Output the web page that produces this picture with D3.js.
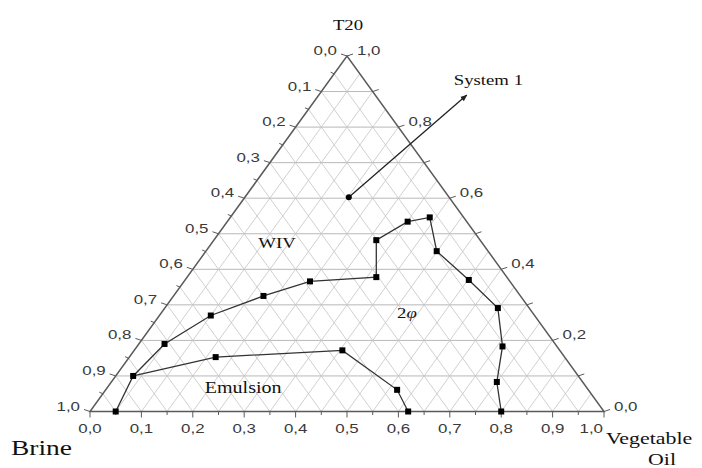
<!DOCTYPE html>
<html>
<head>
<meta charset="utf-8">
<script src="https://cdn.jsdelivr.net/npm/d3@7"></script>
<style>
  body { margin: 0; background: #fff; }
  svg { display: block; }
  .grid { stroke: #c4c4c4; stroke-width: 0.8; fill: none; }
  .grid.h { stroke: #b8b8b8; stroke-width: 1; }
  .frame { stroke: #5a5a5a; stroke-width: 1.5; fill: none; }
  .tick { stroke: #5a5a5a; stroke-width: 1; }
  .tick-label { font-family: 'Liberation Sans', Arial, sans-serif; font-size: 13.5px; fill: #3a3a3a; }
  .title { font-family: 'Liberation Serif', 'Times New Roman', serif; fill: #111; }
  .curve { stroke: #333; stroke-width: 1.3; fill: none; }
</style>
</head>
<body>
<script>
// ternary coordinates: [oil, t20], brine = 1 - oil - t20

var bottomTicks = [0, 0.1, 0.2, 0.3, 0.4, 0.5, 0.6, 0.7, 0.8, 0.9, 1.0];
var bottomLabels = ['0,0', '0,1', '0,2', '0,3', '0,4', '0,5', '0,6', '0,7', '0,8', '0,9', '1,0'];
var leftTicks = [0, 0.1, 0.2, 0.3, 0.4, 0.5, 0.6, 0.7, 0.8, 0.9, 1.0];
var leftLabels = ['0,0', '0,1', '0,2', '0,3', '0,4', '0,5', '0,6', '0,7', '0,8', '0,9', '1,0'];
var rightTicks = [0, 0.1, 0.2, 0.3, 0.4, 0.5, 0.6, 0.7, 0.8, 0.9, 1.0];
var rightLabelTicks = [0, 0.2, 0.4, 0.6, 0.8, 1.0];
var rightLabels = ['0,0', '0,2', '0,4', '0,6', '0,8', '1,0'];

// WIV / 2-phase boundary
var wivOil = [0.05, 0.034, 0.05, 0.10, 0.175, 0.245, 0.368, 0.316, 0.351, 0.388, 0.449, 0.552, 0.648, 0.711, 0.75, 0.80];
var wivT20 = [0.0, 0.10, 0.19, 0.27, 0.325, 0.366, 0.378, 0.482, 0.534, 0.546, 0.451, 0.370, 0.291, 0.183, 0.083, 0.0];

// emulsion boundary
var emuOil = [0.034, 0.168, 0.405, 0.567, 0.619];
var emuT20 = [0.10, 0.153, 0.172, 0.061, 0.0];

var system1 = [0.202, 0.603];
var system1Arrow = [0.288, 0.89];

var regionNames = ['WIV', '2\u03c6', 'Emulsion'];
var regionPos = [[0.127, 0.474], [0.478, 0.277], [0.265, 0.066]];

var
  width = 702,
  height = 468,
  stretch = 1.25,
  svg = d3.select('body').append('svg')
    .attr('width', width)
    .attr('height', height);

var xScale = d3.scaleLinear().domain([0, 1]).range([90, 604]);
var yScale = d3.scaleLinear().domain([0, 1]).range([411.5, 56]);

function px(oil, t20) { return xScale(oil + t20 / 2); }
function py(oil, t20) { return yScale(t20); }

function text(g, x, y, txt, cls, anchor) {
  return g.append('text')
    .attr('class', cls)
    .attr('text-anchor', anchor || 'start')
    .attr('transform', 'translate(' + x + ',' + y + ') scale(' + stretch + ',1)')
    .text(txt);
}

svg.append('defs').append('marker')
  .attr('id', 'arrowhead')
  .attr('viewBox', '0 -5 10 10')
  .attr('refX', 9)
  .attr('refY', 0)
  .attr('orient', 'auto')
  .attr('markerWidth', 7)
  .attr('markerHeight', 7)
  .attr('markerUnits', 'userSpaceOnUse')
  .append('path')
  .attr('d', 'M 0,-4 L 10,0 L 0,4 Z')
  .attr('fill', '#222');

// grid
var levels = d3.range(1, 20).map(function (i) { return i / 20; });
var grid = svg.append('g');

grid.selectAll('.h')
  .data(levels.filter(function (v, i) { return i % 2 === 1; }))
  .enter().append('line')
  .attr('class', 'grid h')
  .attr('x1', function (v) { return px(0, v); })
  .attr('y1', function (v) { return py(0, v); })
  .attr('x2', function (v) { return px(1 - v, v); })
  .attr('y2', function (v) { return py(1 - v, v); });

grid.selectAll('.oil')
  .data(levels)
  .enter().append('line')
  .attr('class', 'grid oil')
  .attr('x1', function (v) { return px(v, 0); })
  .attr('y1', function (v) { return py(v, 0); })
  .attr('x2', function (v) { return px(v, 1 - v); })
  .attr('y2', function (v) { return py(v, 1 - v); });

grid.selectAll('.brine')
  .data(levels)
  .enter().append('line')
  .attr('class', 'grid brine')
  .attr('x1', function (v) { return px(1 - v, 0); })
  .attr('y1', function (v) { return py(1 - v, 0); })
  .attr('x2', function (v) { return px(0, 1 - v); })
  .attr('y2', function (v) { return py(0, 1 - v); });

// frame
svg.append('path')
  .attr('class', 'frame')
  .attr('d', 'M' + px(0, 0) + ',' + py(0, 0) + 'L' + px(1, 0) + ',' + py(1, 0) +
    'L' + px(0, 1) + ',' + py(0, 1) + 'Z');

var axes = svg.append('g');

// bottom axis (vegetable oil)
axes.selectAll('.tb')
  .data(levels.concat([0, 1]))
  .enter().append('line')
  .attr('class', 'tick')
  .attr('x1', function (v) { return px(v, 0); })
  .attr('y1', py(0, 0))
  .attr('x2', function (v) { return px(v, 0); })
  .attr('y2', function (v, i) { return py(0, 0) + (i % 2 === 1 || v === 0 || v === 1 ? 6 : 3.5); });

bottomTicks.forEach(function (v, i) {
  var last = i === bottomTicks.length - 1;
  text(axes, px(v, 0) - (last ? 1 : 0), py(0, 0) + 21, bottomLabels[i], 'tick-label', last ? 'end' : 'middle');
});

// left axis (brine), 0 at top
axes.selectAll('.tl')
  .data(levels.concat([0, 1]))
  .enter().append('line')
  .attr('class', 'tick')
  .attr('x1', function (v) { return px(0, 1 - v); })
  .attr('y1', function (v) { return py(0, 1 - v); })
  .attr('x2', function (v, i) { return px(0, 1 - v) - (i % 2 === 1 || v === 0 || v === 1 ? 6 : 3.5); })
  .attr('y2', function (v, i) { return py(0, 1 - v) - (i % 2 === 1 || v === 0 || v === 1 ? 2 : 1.5); });

leftTicks.forEach(function (v, i) {
  text(axes, px(0, 1 - v) - 10, py(0, 1 - v) - 1, leftLabels[i], 'tick-label', 'end');
});

// right axis (T20)
axes.selectAll('.tr')
  .data(rightTicks)
  .enter().append('line')
  .attr('class', 'tick')
  .attr('x1', function (v) { return px(1 - v, v); })
  .attr('y1', function (v) { return py(1 - v, v); })
  .attr('x2', function (v) { return px(1 - v, v) + 6; })
  .attr('y2', function (v) { return py(1 - v, v) - 2; });

rightLabelTicks.forEach(function (v, i) {
  text(axes, px(1 - v, v) + 10, py(1 - v, v) - 1, rightLabels[i], 'tick-label', 'start');
});

// axis titles
text(svg, px(0, 1) + 1, 30, 'T20', 'title', 'middle').style('font-size', '15px');
text(svg, 11, 455, 'Brine', 'title', 'start').style('font-size', '22px');
text(svg, px(1, 0) + 2, 444, 'Vegetable', 'title', 'start').style('font-size', '17.5px');
text(svg, px(1, 0) + 58, 465, 'Oil', 'title', 'middle').style('font-size', '17.5px');

// curves
var line = d3.line()
  .x(function (d) { return px(d[0], d[1]); })
  .y(function (d) { return py(d[0], d[1]); });

var wiv = wivOil.map(function (o, i) { return [o, wivT20[i]]; });
var emu = emuOil.map(function (o, i) { return [o, emuT20[i]]; });

svg.append('path').datum(wiv).attr('class', 'curve').attr('d', line);
svg.append('path').datum(emu).attr('class', 'curve').attr('d', line);

// system 1 arrow
svg.append('line')
  .attr('x1', px(system1[0], system1[1]))
  .attr('y1', py(system1[0], system1[1]))
  .attr('x2', px(system1Arrow[0], system1Arrow[1]))
  .attr('y2', py(system1Arrow[0], system1Arrow[1]))
  .attr('stroke', '#222')
  .attr('stroke-width', 1.3)
  .attr('marker-end', 'url(#arrowhead)');

text(svg, px(system1Arrow[0], system1Arrow[1]) - 13, py(system1Arrow[0], system1Arrow[1]) - 10, 'System 1', 'title', 'start')
  .style('font-size', '15px');

svg.append('circle')
  .attr('cx', px(system1[0], system1[1]))
  .attr('cy', py(system1[0], system1[1]))
  .attr('r', 3)
  .attr('fill', '#000');

var pts = wiv.concat(emu.slice(1));
svg.selectAll('.pt')
  .data(pts)
  .enter().append('rect')
  .attr('class', 'pt')
  .attr('x', function (d) { return px(d[0], d[1]) - 3; })
  .attr('y', function (d) { return py(d[0], d[1]) - 3; })
  .attr('width', 6)
  .attr('height', 6)
  .attr('fill', '#000');

// region names
regionNames.forEach(function (n, i) {
  var t = text(svg, px(regionPos[i][0], regionPos[i][1]), py(regionPos[i][0], regionPos[i][1]) + 5, '', 'title', 'middle')
    .style('font-size', i === 2 ? '16px' : '15px');
  if (i === 1) {
    t.append('tspan').text('2');
    t.append('tspan').style('font-style', 'italic').text('\u03c6');
  } else {
    t.text(n);
  }
});
</script>
</body>
</html>
